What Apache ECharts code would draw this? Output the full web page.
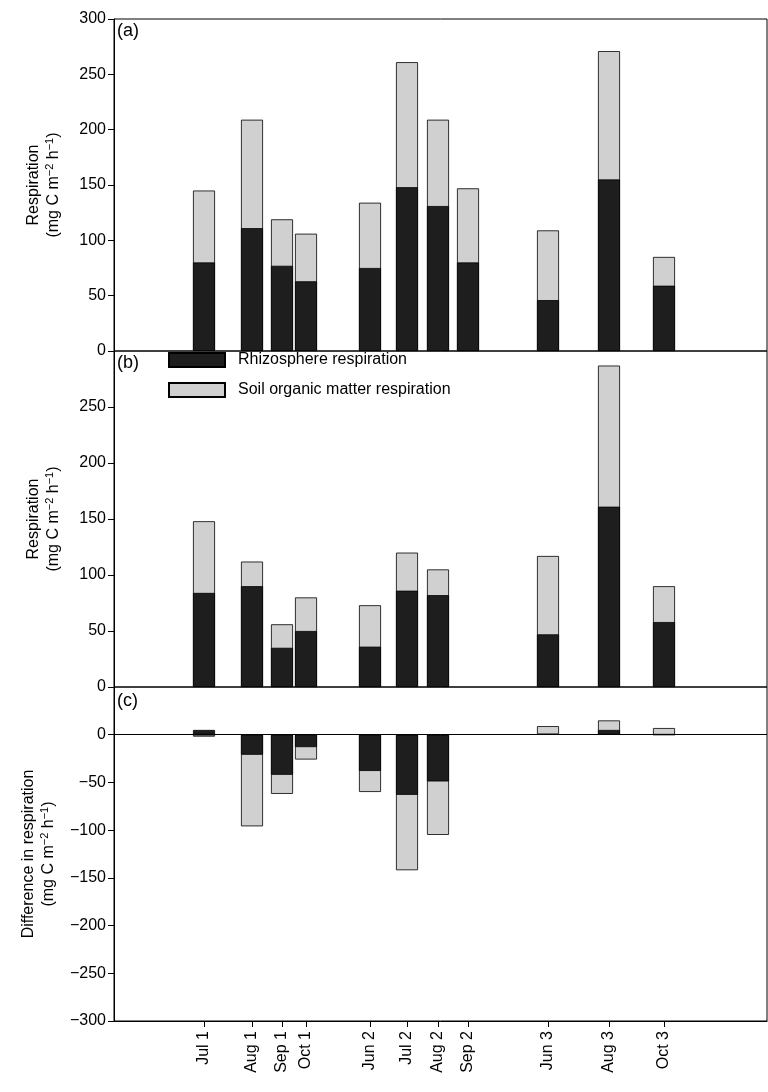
<!DOCTYPE html>
<html>
<head>
<meta charset="utf-8">
<script src="https://cdn.jsdelivr.net/npm/echarts@6/dist/echarts.min.js"></script>
<style>html,body{margin:0;background:#fff}#chart{width:768px;height:1092px}</style>
</head>
<body>
<div id="chart"></div>
<script>
// sampling dates and their positions along the x axis
let dates = ['Jul 1', 'Aug 1', 'Sep 1', 'Oct 1', 'Jun 2', 'Jul 2', 'Aug 2', 'Sep 2', 'Jun 3', 'Aug 3', 'Oct 3'];
let xPos = [90, 138, 168, 192, 256, 293, 324, 354, 434, 495, 550];

// (a) rhizosphere / soil organic matter respiration
let rhizoA = [80, 111, 77, 63, 75, 148, 131, 80, 46, 155, 59];
let somA = [65, 98, 42, 43, 59, 113, 78, 67, 63, 116, 26];
// (b)
let rhizoB = [84, 90, 35, 50, 36, 86, 82, null, 47, 161, 58];
let somB = [64, 22, 21, 30, 37, 34, 23, null, 70, 126, 32];
// (c) difference
let rhizoC = [5, -21, -42, -13, -38, -63, -49, null, 1, 5, 0];
let somC = [-2, -75, -20, -13, -22, -79, -56, null, 8, 10, 7];

const black = '#1e1e1e', grey = '#d0d0d0';
const font = 'Liberation Sans';
const nameRich = { s: { fontSize: 11, verticalAlign: 'top', padding: [0, 0, 6, 0], fontFamily: font, color: '#000' } };
const unit = '(mg C m{s|\u22122} h{s|\u22121})';

function pairs(vals) {
    return vals.map((v, i) => v === null ? null : [xPos[i], v]).filter(p => p);
}
// stacked top of the grey bar (black bar is drawn over it from zero)
function totals(rh, som) {
    return rh.map((v, i) => v === null ? null : (Math.sign(som[i]) === Math.sign(v) || v === 0 ? v + som[i] : som[i]));
}

let chart = echarts.init(document.getElementById('chart'));

let grids = [
    { left: 114, right: 1, top: 19, height: 332 },
    { left: 114, right: 1, top: 351, height: 336 },
    { left: 114, right: 1, top: 687, height: 334 }
].map(g => Object.assign(g, { show: true, borderColor: '#000', borderWidth: 1 }));

let xAxes = [0, 1, 2].map(i => ({
    type: 'value', gridIndex: i, min: 0, max: 653,
    axisLine: { show: i === 2, onZero: false, lineStyle: { color: '#000' } },
    splitLine: { show: false },
    axisTick: { show: i === 2, customValues: xPos, length: 6, lineStyle: { color: '#000' } },
    axisLabel: {
        show: i === 2, customValues: xPos, rotate: 90, color: '#000',
        fontFamily: font, fontSize: 16, margin: 10,
        formatter: v => dates[xPos.indexOf(v)]
    }
}));

let yBase = {
    type: 'value', interval: 50,
    axisLine: { show: true, onZero: false, lineStyle: { color: '#000' } },
    axisTick: { show: true, inside: false, length: 6, lineStyle: { color: '#000' } },
    splitLine: { show: false },
    nameLocation: 'middle', nameGap: 50, nameRotate: 90,
    nameTextStyle: { color: '#000', fontFamily: font, fontSize: 16, lineHeight: 20, rich: nameRich }
};

let yAxes = [
    Object.assign({}, yBase, { gridIndex: 0, min: 0, max: 300, name: 'Respiration\n' + unit,
        axisLabel: { color: '#000', fontFamily: font, fontSize: 16 } }),
    Object.assign({}, yBase, { gridIndex: 1, min: 0, max: 300, name: 'Respiration\n' + unit,
        axisLabel: { color: '#000', fontFamily: font, fontSize: 16, formatter: v => v === 300 ? '' : v } }),
    Object.assign({}, yBase, { gridIndex: 2, min: -300, max: 50, name: 'Difference in respiration\n' + unit,
        axisLabel: { color: '#000', fontFamily: font, fontSize: 16,
            formatter: v => v === 50 ? '' : (v < 0 ? '\u2212' + (-v) : v) } })
];

function barSeries(name, color, vals, idx) {
    return {
        name: name, type: 'bar', xAxisIndex: idx, yAxisIndex: idx,
        barWidth: 22, barGap: '-100%', data: pairs(vals),
        itemStyle: { color: color, borderColor: '#000', borderWidth: 0.8 }
    };
}

let series = [
    barSeries('Soil organic matter respiration', grey, totals(rhizoA, somA), 0),
    barSeries('Rhizosphere respiration', black, rhizoA, 0),
    barSeries('Soil organic matter respiration', grey, totals(rhizoB, somB), 1),
    barSeries('Rhizosphere respiration', black, rhizoB, 1),
    barSeries('Soil organic matter respiration', grey, totals(rhizoC, somC), 2),
    barSeries('Rhizosphere respiration', black, rhizoC, 2)
];
// zero line in panel (c)
series[5].markLine = {
    symbol: 'none', silent: true, label: { show: false },
    lineStyle: { color: '#000', width: 1, type: 'solid' },
    data: [{ yAxis: 0 }]
};

chart.setOption({
    animation: false,
    grid: grids,
    xAxis: xAxes,
    yAxis: yAxes,
    legend: {
        orient: 'vertical', left: 163, top: 347, itemWidth: 56, itemHeight: 14, itemGap: 14,
        icon: 'rect', data: ['Rhizosphere respiration', 'Soil organic matter respiration'],
        textStyle: { color: '#000', fontFamily: font, fontSize: 16, padding: [0, 0, 0, 8] }
    },
    graphic: [
        { type: 'text', left: 117, top: 22, style: { text: '(a)', fontFamily: font, fontSize: 18, fill: '#000' } },
        { type: 'text', left: 117, top: 354, style: { text: '(b)', fontFamily: font, fontSize: 18, fill: '#000' } },
        { type: 'text', left: 117, top: 692, style: { text: '(c)', fontFamily: font, fontSize: 18, fill: '#000' } }
    ],
    series: series
});
</script>
</body>
</html>
